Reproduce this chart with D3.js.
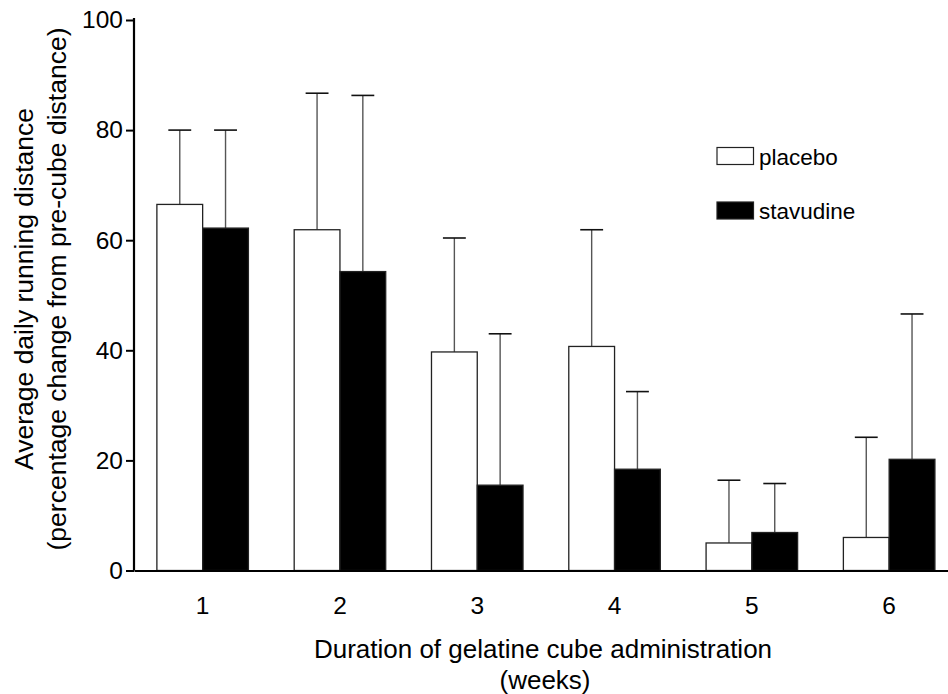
<!DOCTYPE html>
<html>
<head>
<meta charset="utf-8">
<script src="https://cdn.jsdelivr.net/npm/d3@7"></script>
<style>
  html, body { margin: 0; padding: 0; background: #fff; }
  svg { display: block; font-family: Arial, "Liberation Sans", Helvetica, sans-serif; }
</style>
</head>
<body>
<svg id="chart" width="948" height="694"></svg>
<script>
// Weeks of gelatine cube administration
const weeks = ["1", "2", "3", "4", "5", "6"];
const seriesNames = ["placebo", "stavudine"];
// Mean change in running distance (%), and upper end of error bar (mean + SEM)
const placeboMean = [66.5, 61.9, 39.7, 40.7, 5.0, 6.0];
const placeboUpper = [80.0, 86.7, 60.4, 61.9, 16.4, 24.2];
const stavudineMean = [62.2, 54.3, 15.5, 18.4, 6.9, 20.2];
const stavudineUpper = [80.0, 86.3, 43.0, 32.5, 15.8, 46.6];
const yTicks = [0, 20, 40, 60, 80, 100];
const fills = { placebo: "#ffffff", stavudine: "#000000" };

const svg = d3.select("#chart");
const axisX = 134, zeroY = 570.5, topY = 20;
const font = "Arial, 'Liberation Sans', sans-serif";

const y = d3.scaleLinear().domain([0, 100]).range([zeroY, topY]);
const x0 = d3.scaleBand().domain(weeks).range([axisX, axisX + 823.8])
  .paddingInner(1 / 3).paddingOuter(1 / 6);
const x1 = d3.scaleBand().domain(seriesNames).range([0, x0.bandwidth()]);

const rows = weeks.map((w, i) => ({
  week: w,
  bars: [
    { series: "placebo", mean: placeboMean[i], upper: placeboUpper[i] },
    { series: "stavudine", mean: stavudineMean[i], upper: stavudineUpper[i] }
  ]
}));

const groups = svg.append("g").selectAll("g").data(rows).join("g")
  .attr("transform", d => `translate(${x0(d.week)},0)`);

// error bars (drawn first so the bars sit on top of the stems)
const err = groups.selectAll("g.err").data(d => d.bars).join("g").attr("class", "err");
err.append("line")
  .attr("x1", d => x1(d.series) + x1.bandwidth() / 2)
  .attr("x2", d => x1(d.series) + x1.bandwidth() / 2)
  .attr("y1", d => y(d.mean))
  .attr("y2", d => y(d.upper))
  .attr("stroke", "#555").attr("stroke-width", 1.4);
err.append("line")
  .attr("x1", d => x1(d.series) + x1.bandwidth() / 4)
  .attr("x2", d => x1(d.series) + x1.bandwidth() * 3 / 4)
  .attr("y1", d => y(d.upper))
  .attr("y2", d => y(d.upper))
  .attr("stroke", "#111").attr("stroke-width", 1.6);

// bars
groups.selectAll("rect").data(d => d.bars).join("rect")
  .attr("x", d => x1(d.series))
  .attr("width", x1.bandwidth())
  .attr("y", d => y(d.mean))
  .attr("height", d => y(0) - y(d.mean))
  .attr("fill", d => fills[d.series])
  .attr("stroke", "#222").attr("stroke-width", 1.3);

// y axis
const yAxis = d3.axisLeft(y).tickValues(yTicks).tickSize(8).tickPadding(3);
const gy = svg.append("g").attr("transform", `translate(${axisX},0)`).call(yAxis);
gy.select(".domain").attr("stroke", "#000").attr("stroke-width", 2.2)
  .attr("d", `M0,${topY - 2}V${zeroY}`);
gy.selectAll(".tick line").attr("stroke", "#000").attr("stroke-width", 2);
gy.selectAll(".tick text").attr("font-size", 24.5).attr("fill", "#000")
  .attr("font-family", font);

// x axis
const xAxis = d3.axisBottom(x0).tickSize(0).tickPadding(26);
const gx = svg.append("g").attr("transform", `translate(0,${zeroY})`).call(xAxis);
gx.select(".domain").attr("stroke", "#000").attr("stroke-width", 2.2);
gx.selectAll(".tick text").attr("font-size", 24.5).attr("fill", "#000")
  .attr("font-family", font);

// axis titles
const ty = svg.append("text")
  .attr("transform", "translate(0,289) rotate(-90)")
  .attr("text-anchor", "middle").attr("font-size", 26.5).attr("fill", "#000");
ty.append("tspan").attr("x", 0).attr("y", 33).text("Average daily running distance");
ty.append("tspan").attr("x", 0).attr("y", 66).text("(percentage change from pre-cube distance)");

const tx = svg.append("text").attr("text-anchor", "middle").attr("font-size", 26).attr("fill", "#000");
tx.append("tspan").attr("x", 543).attr("y", 658).text("Duration of gelatine cube administration");
tx.append("tspan").attr("x", 545).attr("y", 689).text("(weeks)");

// legend
const legend = svg.append("g").selectAll("g").data(seriesNames).join("g")
  .attr("transform", (d, i) => `translate(717,${147.5 + i * 54.5})`);
legend.append("rect").attr("width", 36.5).attr("height", 17)
  .attr("fill", d => fills[d]).attr("stroke", "#222").attr("stroke-width", 1.2);
legend.append("text").attr("x", 42).attr("y", 17).attr("font-size", 22.5).attr("fill", "#000")
  .text(d => d);
</script>
</body>
</html>
